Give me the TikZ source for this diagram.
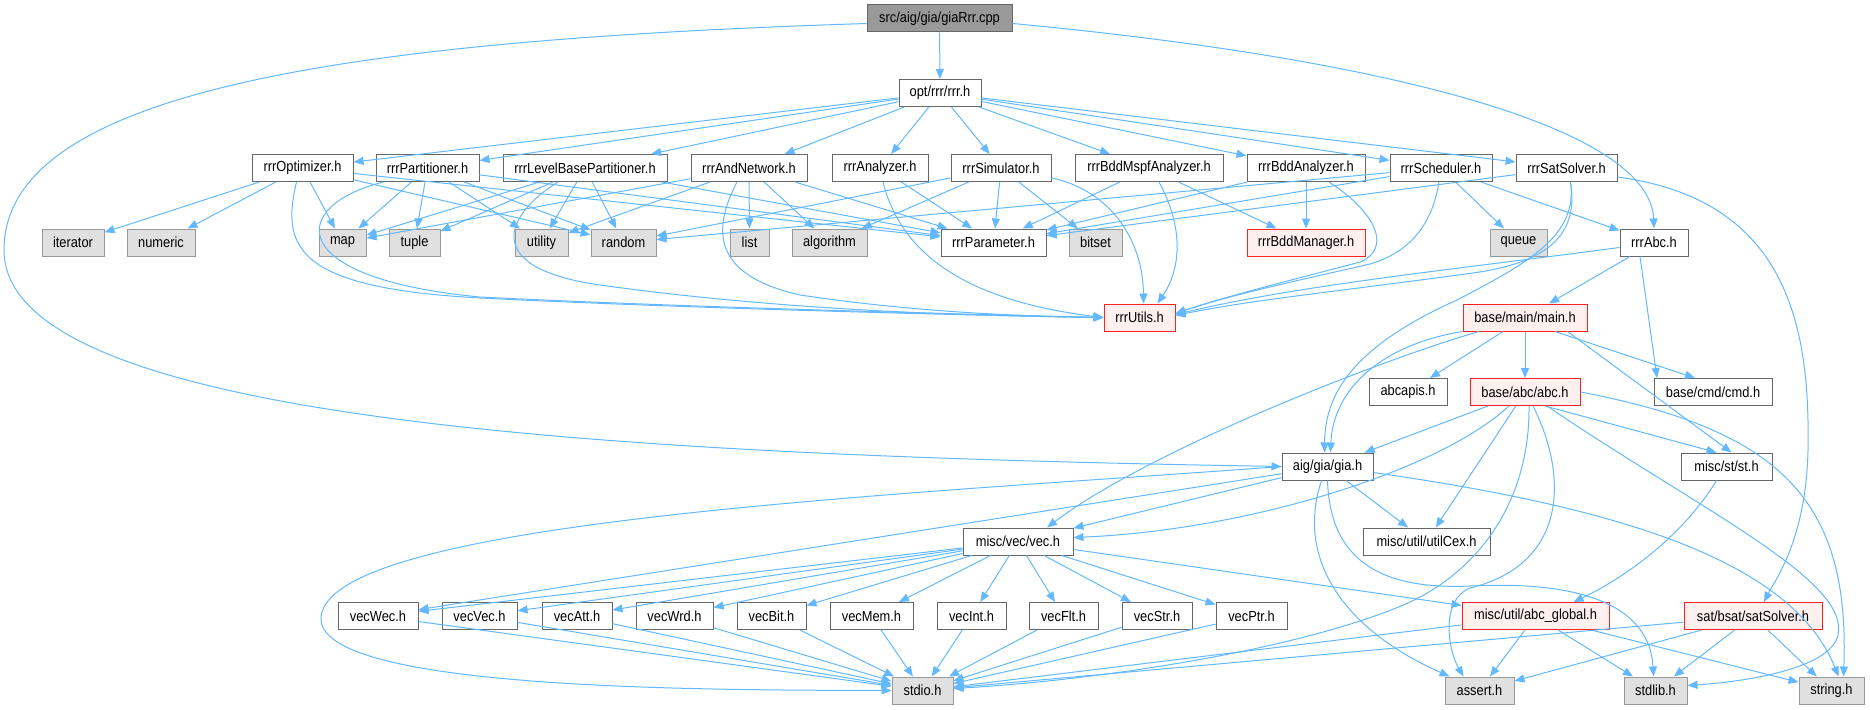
\documentclass[tikz,border=0pt]{standalone}
\usepackage{fontspec}
\setmainfont{Liberation Sans}[FakeStretch=0.88]
\usetikzlibrary{arrows.meta}
\definecolor{edgeblue}{HTML}{63B8FF}
\definecolor{boxgray}{HTML}{666666}
\definecolor{sysdraw}{HTML}{999999}
\definecolor{sysfill}{HTML}{E0E0E0}
\definecolor{reddraw}{HTML}{FF2020}
\definecolor{redfill}{HTML}{FFF0F0}
\definecolor{rootfill}{HTML}{999999}
\begin{document}
\begin{tikzpicture}[x=1pt,y=-1pt,
  nb/.style={draw=boxgray, fill=white, line width=1pt, minimum height=27pt, inner sep=0pt, font=\fontsize{14.6}{16}\selectfont},
  sys/.style={nb, draw=sysdraw, fill=sysfill},
  redb/.style={nb, draw=reddraw, fill=redfill},
  rootb/.style={nb, fill=rootfill},
  mw/.style={minimum width=#1pt},
  edge/.style={draw=edgeblue, line width=1pt, -{Triangle[length=10pt,width=8pt]}}]
\useasboundingbox (0,0) rectangle (1870,709);
% row 0-1
\node[rootb, mw=145] (root) at (939.5,18.5) {src/aig/gia/giaRrr.cpp};
\node[nb, mw=82] (rrr) at (940,93) {opt/rrr/rrr.h};
% row 2
\node[nb, mw=101] (opt) at (302.5,168) {rrrOptimizer.h};
\node[nb, mw=103] (part) at (427.5,168) {rrrPartitioner.h};
\node[nb, mw=164] (lvl) at (585,168) {rrrLevelBasePartitioner.h};
\node[nb, mw=116] (andn) at (749,168) {rrrAndNetwork.h};
\node[nb, mw=96] (ana) at (880,168) {rrrAnalyzer.h};
\node[nb, mw=100] (sim) at (1001,168) {rrrSimulator.h};
\node[nb, mw=148] (mspf) at (1149,168) {rrrBddMspfAnalyzer.h};
\node[nb, mw=118] (bdda) at (1306,168) {rrrBddAnalyzer.h};
\node[nb, mw=102] (sched) at (1441,168) {rrrScheduler.h};
\node[nb, mw=101] (sats) at (1566.5,168) {rrrSatSolver.h};
% row 3
\node[sys, mw=62] (iter) at (73,242.5) {iterator};
\node[sys, mw=68] (num) at (161,242.5) {numeric};
\node[sys, mw=47] (map) at (342.5,242.5) {map};
\node[sys, mw=51] (tuple) at (414.5,242.5) {tuple};
\node[sys, mw=53] (util) at (541.5,242.5) {utility};
\node[sys, mw=65] (rand) at (623.5,242.5) {random};
\node[sys, mw=39] (list) at (749.5,242.5) {list};
\node[sys, mw=75] (algo) at (829.5,242.5) {algorithm};
\node[nb, mw=105] (param) at (993.5,242.5) {rrrParameter.h};
\node[sys, mw=53] (bitset) at (1095.5,242.5) {bitset};
\node[redb, mw=118] (bddm) at (1306,242.5) {rrrBddManager.h};
\node[sys, mw=57] (queue) at (1518.5,242.5) {queue};
\node[nb, mw=68] (rrrabc) at (1654,242.5) {rrrAbc.h};
% row 4
\node[redb, mw=71] (utils) at (1139.5,317.5) {rrrUtils.h};
\node[redb, mw=124] (main) at (1525,317.5) {base/main/main.h};
% row 5
\node[nb, mw=78] (abcapis) at (1408,392) {abcapis.h};
\node[redb, mw=110] (abc) at (1525,392) {base/abc/abc.h};
\node[nb, mw=118] (cmd) at (1713,392) {base/cmd/cmd.h};
% row 6
\node[nb, mw=91] (gia) at (1327.5,466.5) {aig/gia/gia.h};
\node[nb, mw=91] (st) at (1726.5,466.5) {misc/st/st.h};
% row 7
\node[nb, mw=110] (vec) at (1018,541.5) {misc/vec/vec.h};
\node[nb, mw=127] (cex) at (1426.5,541.5) {misc/util/utilCex.h};
% row 8
\node[nb, mw=80] (vecwec) at (378,616) {vecWec.h};
\node[nb, mw=75] (vecvec) at (479.5,616) {vecVec.h};
\node[nb, mw=70] (vecatt) at (577,616) {vecAtt.h};
\node[nb, mw=77] (vecwrd) at (674.5,616) {vecWrd.h};
\node[nb, mw=69] (vecbit) at (771.5,616) {vecBit.h};
\node[nb, mw=83] (vecmem) at (871.5,616) {vecMem.h};
\node[nb, mw=69] (vecint) at (971.5,616) {vecInt.h};
\node[nb, mw=69] (vecflt) at (1063.5,616) {vecFlt.h};
\node[nb, mw=70] (vecstr) at (1157,616) {vecStr.h};
\node[nb, mw=71] (vecptr) at (1251.5,616) {vecPtr.h};
\node[redb, mw=147] (glob) at (1535.5,616) {misc/util/abc\_global.h};
\node[redb, mw=138] (satsolver) at (1753,616) {sat/bsat/satSolver.h};
% row 9
\node[sys, mw=61] (stdio) at (922.5,690.5) {stdio.h};
\node[sys, mw=69] (assert) at (1479.5,690.5) {assert.h};
\node[sys, mw=63] (stdlib) at (1655.5,690.5) {stdlib.h};
\node[sys, mw=65] (string) at (1831.5,690.5) {string.h};

% ---- edges ----
\draw[edge] (root) -- (rrr);
\draw[edge] ([yshift=-5pt]root.west) .. controls (350,40) and (4,90) .. (4,250) .. controls (4,420) and (600,455) .. (gia.west);
\draw[edge] ([yshift=-5pt]root.east) .. controls (1400,60) and (1650,130) .. (rrrabc.north);
\foreach \t in {opt,part,lvl,andn,ana,sim,mspf,bdda,sched,sats} \draw[edge] (rrr) -- (\t);
% optimizer
\foreach \t in {iter,num,map,rand,param} \draw[edge] (opt) -- (\t);
\draw[edge] ([xshift=-6pt]opt.south) .. controls (280,250) and (300,288) .. (480,298) .. controls (700,309) and (1000,316) .. (utils.west);
% partitioner
\foreach \t in {map,tuple,util,rand,param} \draw[edge] (part) -- (\t);
\draw[edge] ([xshift=-44pt]part.south) .. controls (290,205) and (280,278) .. (480,297) .. controls (700,308) and (1000,315) .. (utils.west);
% level base
\foreach \t in {map,tuple,util,rand,param} \draw[edge] (lvl) -- (\t);
\draw[edge] ([xshift=-27pt]lvl.south) .. controls (505,215) and (480,268) .. (600,285) .. controls (800,313) and (1000,316) .. (utils.west);
% and network
\foreach \t in {map,util,list,algo,param} \draw[edge] (andn) -- (\t);
\draw[edge] ([xshift=-12pt]andn.south) .. controls (712,230) and (712,275) .. (800,295) .. controls (900,310) and (1000,316) .. (utils.west);
% analyzer
\draw[edge] (ana) -- (param);
\draw[edge] ([xshift=3pt]ana.south) .. controls (900,250) and (960,300) .. (utils.west);
% simulator
\foreach \t in {rand,algo,param,bitset} \draw[edge] (sim) -- (\t);
\draw[edge] ([yshift=-10pt]sim.east) .. controls (1110,190) and (1143,240) .. ([xshift=4pt]utils.north);
% bdd mspf
\foreach \t in {param,bddm} \draw[edge] (mspf) -- (\t);
\draw[edge] ([xshift=10pt]mspf.south) .. controls (1185,230) and (1180,270) .. ([xshift=18pt]utils.north);
% bdd analyzer
\foreach \t in {param,bddm} \draw[edge] (bdda) -- (\t);
\draw[edge] ([xshift=23pt]bdda.south) .. controls (1380,215) and (1390,250) .. (1360,262) .. controls (1300,278) and (1230,295) .. ([yshift=4pt]utils.east);
% scheduler
\foreach \t in {rand,param,queue,rrrabc} \draw[edge] (sched) -- (\t);
\draw[edge] ([xshift=-2pt]sched.south) .. controls (1432,225) and (1410,252) .. (1370,264) .. controls (1300,280) and (1230,295) .. ([yshift=4pt]utils.east);
% sat solver
\draw[edge] (sats) -- (param);
\draw[edge] ([xshift=4pt]sats.south) .. controls (1580,240) and (1540,262) .. (1480,272) .. controls (1350,290) and (1250,300) .. ([yshift=2pt]utils.east);
\draw[edge] ([xshift=4pt]sats.south) .. controls (1578,235) and (1530,262) .. (1457,300) .. controls (1345,350) and (1325,400) .. ([xshift=-3pt]gia.north);
\draw[edge] ([yshift=-9pt]sats.east) .. controls (1790,200) and (1810,330) .. (1808,450) .. controls (1806,540) and (1775,580) .. ([xshift=11pt]satsolver.north);
% rrrAbc
\draw[edge] ([yshift=-5pt]rrrabc.west) .. controls (1450,270) and (1300,285) .. ([yshift=3pt]utils.east);
\draw[edge] (rrrabc) -- (main);
\draw[edge] ([xshift=-14pt]rrrabc.south) -- ([xshift=-56pt]cmd.north);
% main
\draw[edge] (main.south west) .. controls (1380,345) and (1333,390) .. ([xshift=3pt]gia.north);
\draw[edge] ([xshift=-46pt]main.south) .. controls (1380,360) and (1150,450) .. ([xshift=29pt]vec.north);
\draw[edge] (main) -- (abcapis);
\draw[edge] (main) -- (abc);
\draw[edge] ([xshift=30pt]main.south) -- ([xshift=-18pt]cmd.north);
\draw[edge] ([xshift=-20pt]main.south east) -- ([xshift=5pt]st.north);
% abc
\draw[edge] (abc) -- (gia);
\draw[edge] (abc) -- (cex);
\draw[edge] ([xshift=20pt]abc.south) -- ([xshift=-10pt]st.north);
\draw[edge] ([xshift=-16pt]abc.south) .. controls (1440,470) and (1250,530) .. ([yshift=4pt]vec.east);
\draw[edge] ([xshift=4pt]abc.south) .. controls (1530,500) and (1480,570) .. (1408,603) .. controls (1300,650) and (1100,680) .. ([yshift=2pt]stdio.east);
\draw[edge] ([xshift=8pt]abc.south) .. controls (1570,480) and (1565,565) .. (1470,588) .. controls (1440,600) and (1448,650) .. ([xshift=-16pt]assert.north);
\draw[edge] ([xshift=22pt]abc.south) .. controls (1700,510) and (1850,580) .. (1838,635) .. controls (1830,670) and (1740,682) .. ([yshift=5pt]stdlib.east);
\draw[edge] (abc.east) .. controls (1780,430) and (1850,500) .. ([xshift=12pt]string.north);
% gia
\draw[edge] (gia) -- (vec);
\draw[edge] (gia) -- (vecwec);
\draw[edge] (gia) -- (cex);
\draw[edge] (gia.west) .. controls (900,495) and (330,520) .. (321,617) .. controls (315,690) and (700,690) .. (stdio.west);
\draw[edge] ([xshift=-6pt]gia.south) .. controls (1295,560) and (1345,630) .. ([xshift=-30pt]assert.north);
\draw[edge] (gia.south) .. controls (1330,560) and (1380,590) .. (1470,586) .. controls (1590,580) and (1650,610) .. ([xshift=-2pt]stdlib.north);
\draw[edge] ([yshift=-6pt]gia.east) .. controls (1600,505) and (1790,555) .. ([xshift=7pt]string.north);
% vec
\foreach \t in {vecwec,vecvec,vecatt,vecwrd,vecbit,vecmem,vecint,vecflt,vecstr,vecptr,glob} \draw[edge] (vec) -- (\t);
\foreach \s in {vecwec,vecvec,vecatt,vecwrd,vecbit,vecmem,vecint,vecflt,vecstr,vecptr} \draw[edge] (\s) -- (stdio);
% st
\draw[edge] ([xshift=-10pt]st.south) .. controls (1680,540) and (1620,580) .. ([xshift=38pt]glob.north);
% abc_global
\foreach \t in {stdio,assert,stdlib,string} \draw[edge] (glob) -- (\t);
% satSolver
\foreach \t in {stdio,assert,stdlib,string} \draw[edge] (satsolver) -- (\t);
\end{tikzpicture}
\end{document}
